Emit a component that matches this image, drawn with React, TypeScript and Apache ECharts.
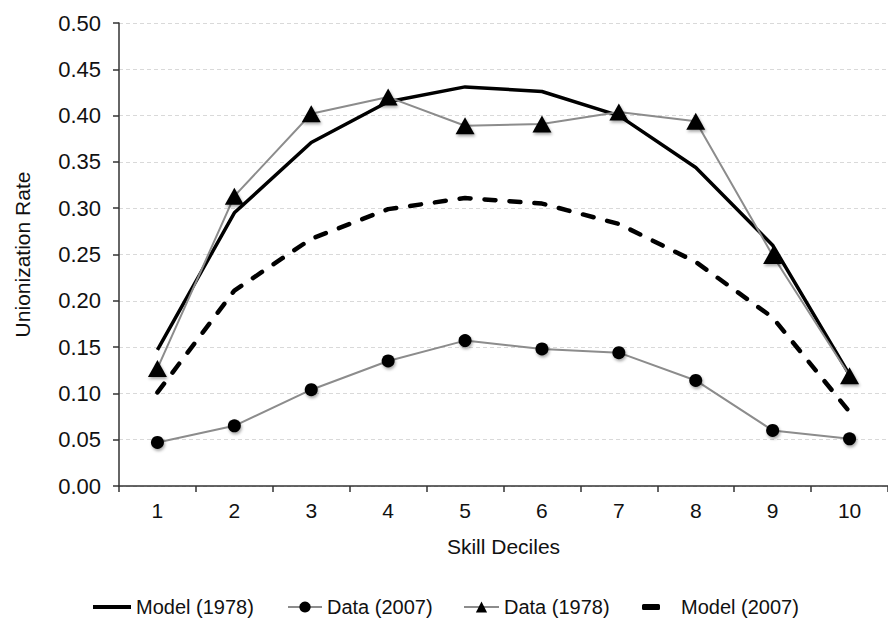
import React, { useEffect, useRef } from "react";
import * as echarts from "echarts";

const categories = ["1", "2", "3", "4", "5", "6", "7", "8", "9", "10"];
const model1978 = [0.147, 0.295, 0.371, 0.415, 0.431, 0.426, 0.4, 0.344, 0.26, 0.12];
const data2007 = [0.047, 0.065, 0.104, 0.135, 0.157, 0.148, 0.144, 0.114, 0.06, 0.051];
const data1978 = [0.127, 0.313, 0.402, 0.42, 0.389, 0.391, 0.404, 0.394, 0.249, 0.119];
const model2007 = [0.101, 0.211, 0.267, 0.299, 0.311, 0.305, 0.283, 0.242, 0.182, 0.08];

const FONT = "'Liberation Sans', Arial, Helvetica, sans-serif";

export default function App() {
  const ref = useRef<HTMLDivElement>(null);
  useEffect(() => {
    if (!ref.current) return;
    const chart = echarts.init(ref.current, undefined, { renderer: "svg" });
    const legendText = { fontFamily: FONT, fontSize: 20, color: "#111" };
    const legendBase = { top: 597, padding: 0, selectedMode: false, textStyle: legendText };
    chart.setOption({
      animation: false,
      backgroundColor: "#fff",
      textStyle: { fontFamily: FONT },
      grid: { left: 119, top: 23, width: 772, height: 463, containLabel: false },
      legend: [
        {
          ...legendBase,
          data: [{ name: "Model (1978)", icon: "rect", itemStyle: { color: "#000" } }],
          left: 93, itemWidth: 38, itemHeight: 4,
        },
        { ...legendBase, data: ["Data (2007)"], left: 287, itemWidth: 34, itemHeight: 14 },
        { ...legendBase, data: ["Data (1978)"], left: 463, itemWidth: 35, itemHeight: 14 },
        {
          ...legendBase,
          data: [{ name: "Model (2007)", icon: "roundRect", itemStyle: { color: "#000" } }],
          left: 642, itemWidth: 18, itemHeight: 6,
          textStyle: { ...legendText, padding: [0, 0, 0, 16] },
        },
      ],
      xAxis: {
        type: "category",
        data: categories,
        boundaryGap: true,
        name: "Skill Deciles",
        nameLocation: "middle",
        nameGap: 50,
        nameTextStyle: { fontFamily: FONT, fontSize: 21, color: "#111" },
        axisLine: { lineStyle: { color: "#333", width: 1.5 } },
        axisTick: { show: true, length: 6, lineStyle: { color: "#333", width: 1.5 } },
        axisLabel: { fontFamily: FONT, fontSize: 21, color: "#111", margin: 14 },
        splitLine: { show: false },
      },
      yAxis: {
        type: "value",
        min: 0,
        max: 0.5,
        interval: 0.05,
        name: "Unionization Rate",
        nameLocation: "middle",
        nameGap: 86,
        nameRotate: 90,
        nameTextStyle: { fontFamily: FONT, fontSize: 21, color: "#111" },
        axisLine: { show: true, lineStyle: { color: "#333", width: 1.5 } },
        axisTick: { show: true, length: 6, lineStyle: { color: "#333", width: 1.5 } },
        axisLabel: {
          fontFamily: FONT, fontSize: 22, color: "#111", margin: 18,
          formatter: (v: number) => v.toFixed(2),
        },
        splitLine: { show: true, lineStyle: { color: "#d9d9d9", type: [4, 3], width: 1 } },
      },
      series: [
        {
          name: "Model (1978)",
          type: "line",
          data: model1978,
          symbol: "none",
          lineStyle: { color: "#000", width: 3.5 },
          itemStyle: { color: "#000" },
          z: 2,
        },
        {
          name: "Data (2007)",
          type: "line",
          data: data2007,
          symbol: "circle",
          symbolSize: 13,
          lineStyle: { color: "#8c8c8c", width: 2 },
          itemStyle: {
            color: "#000", borderWidth: 0,
            shadowBlur: 3, shadowColor: "rgba(0,0,0,0.35)", shadowOffsetX: 1, shadowOffsetY: 2,
          },
          z: 3,
        },
        {
          name: "Data (1978)",
          type: "line",
          data: data1978,
          symbol: "triangle",
          symbolSize: [19, 17],
          lineStyle: { color: "#8c8c8c", width: 2 },
          itemStyle: {
            color: "#000", borderWidth: 0,
            shadowBlur: 3, shadowColor: "rgba(0,0,0,0.35)", shadowOffsetX: 1, shadowOffsetY: 2,
          },
          z: 4,
        },
        {
          name: "Model (2007)",
          type: "line",
          data: model2007,
          symbol: "none",
          lineStyle: { color: "#000", width: 4.5, type: [11, 14], cap: "round" },
          itemStyle: { color: "#000" },
          z: 5,
        },
      ],
    });
    return () => chart.dispose();
  }, []);
  return <div ref={ref} style={{ width: 888, height: 623, position: "absolute", left: 0, top: 0 }} />;
}
